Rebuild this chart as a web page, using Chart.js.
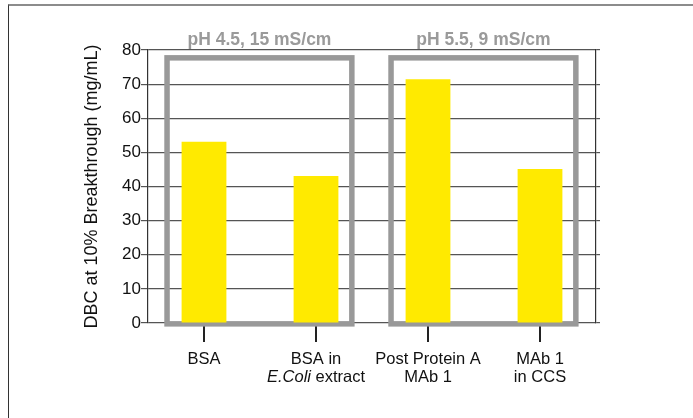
<!DOCTYPE html>
<html>
<head>
<meta charset="utf-8">
<title>DBC at 10% Breakthrough</title>
<script src="https://cdn.jsdelivr.net/npm/chart.js@4.4.1/dist/chart.umd.min.js"></script>
<style>
    html, body { margin: 0; padding: 0; background: #fff; }
    #wrap { position: relative; width: 693px; height: 418px; overflow: hidden; }
    #moldura { position: absolute; left: 8px; top: 4px; right: -5px; bottom: -5px;
               border-top: 2px solid #8c8c8c; border-left: 1px solid #333; }
    canvas { position: absolute; left: 0; top: 0; }
</style>
</head>
<body>
<div id="wrap">
    <div id="moldura"></div>
    <canvas id="grafico" width="693" height="418"></canvas>
</div>
<script>
// --- DADOS ---
// texto entre _ _ sai em itálico
const categorias = [
    ['BSA'],
    ['BSA in', '_E.Coli_ extract'],
    ['Post Protein A', 'MAb 1'],
    ['MAb 1', 'in CCS']
];
const dbcValores = [53.1, 43.1, 71.4, 45.1];
const yTicks = [0, 10, 20, 30, 40, 50, 60, 70, 80];
const grupos = ['pH 4.5, 15 mS/cm', 'pH 5.5, 9 mS/cm'];
const grupoPrimeiro = [0, 2];
const grupoUltimo = [1, 3];

const fonte = "'Liberation Sans', Arial, Helvetica, sans-serif";
Chart.defaults.font.family = fonte;
Chart.defaults.color = '#111';

// --- CAIXAS CINZA DOS GRUPOS (abaixo das barras) ---
const caixasGrupos = {
    id: 'caixasGrupos',
    beforeDatasetsDraw(chart) {
        const { ctx, scales: { x, y } } = chart;
        ctx.save();
        ctx.strokeStyle = '#999';
        ctx.lineWidth = 5.5;
        const topo = y.getPixelForValue(77.7);
        const base = y.getPixelForValue(-0.25);
        grupos.forEach((nome, i) => {
            const esq = x.getPixelForValue(grupoPrimeiro[i] - 0.33);
            const dir = x.getPixelForValue(grupoUltimo[i] + 0.32);
            ctx.strokeRect(esq, topo, dir - esq, base - topo);

            ctx.fillStyle = '#9a9a9a';
            ctx.font = 'bold 17.5px ' + fonte;
            ctx.textAlign = 'center';
            ctx.textBaseline = 'alphabetic';
            ctx.fillText(nome, (esq + dir) / 2, topo - 13);
        });
        ctx.restore();
    },
    afterDraw(chart) {
        // rótulos do eixo X com trecho em itálico
        const { ctx, scales: { x } } = chart;
        ctx.save();
        ctx.fillStyle = '#111';
        ctx.textBaseline = 'alphabetic';
        ctx.textAlign = 'left';
        categorias.forEach((linhas, i) => {
            const cx = x.getPixelForValue(i);
            linhas.forEach((linha, j) => {
                const partes = linha.split('_');
                let largura = 0;
                partes.forEach((p, k) => {
                    ctx.font = (k % 2 ? 'italic ' : '') + '16.5px ' + fonte;
                    largura += ctx.measureText(p).width;
                });
                let px = cx - largura / 2;
                const py = x.top + 40.5 + j * 18.5;
                partes.forEach((p, k) => {
                    ctx.font = (k % 2 ? 'italic ' : '') + '16.5px ' + fonte;
                    ctx.fillText(p, px, py);
                    px += ctx.measureText(p).width;
                });
            });
        });
        ctx.restore();
    }
};

new Chart(document.getElementById('grafico'), {
    type: 'bar',
    data: {
        labels: categorias.map(l => l.join(' ').replace(/_/g, '')),
        datasets: [{
            label: 'DBC',
            data: dbcValores,
            backgroundColor: '#ffea00',
            borderWidth: 0,
            barPercentage: 0.4,
            categoryPercentage: 1.0
        }]
    },
    options: {
        responsive: false,
        devicePixelRatio: 1,
        animation: false,
        layout: { padding: { top: 50, left: 81, right: 0, bottom: 0 } },
        plugins: { legend: { display: false }, tooltip: { enabled: false } },
        scales: {
            x: {
                z: 1,
                offset: true,
                ticks: { display: false },
                grid: { offset: false, drawOnChartArea: false, drawTicks: true, tickLength: 19, color: '#222', lineWidth: 2 },
                border: { display: false },
                afterFit: s => { s.height = 95; }
            },
            y: {
                position: 'left',
                min: yTicks[0],
                max: yTicks[yTicks.length - 1],
                ticks: { stepSize: yTicks[1] - yTicks[0], padding: 0, font: { size: 17 }, color: '#111' },
                grid: { color: '#555', lineWidth: 1.2, tickLength: 7 },
                border: { color: '#333', width: 1.2 },
                title: {
                    display: true,
                    text: 'DBC at 10% Breakthrough (mg/mL)',
                    font: { size: 18 },
                    color: '#111',
                    padding: 0
                },
                afterFit: s => { s.width = 67; }
            },
            y2: {
                position: 'right',
                min: yTicks[0],
                max: yTicks[yTicks.length - 1],
                ticks: { display: false, stepSize: yTicks[1] - yTicks[0] },
                grid: { drawOnChartArea: false, color: '#555', lineWidth: 1.2, tickLength: 4 },
                border: { color: '#333', width: 1.2 },
                afterFit: s => { s.width = 97; }
            }
        }
    },
    plugins: [caixasGrupos]
});
</script>
</body>
</html>
